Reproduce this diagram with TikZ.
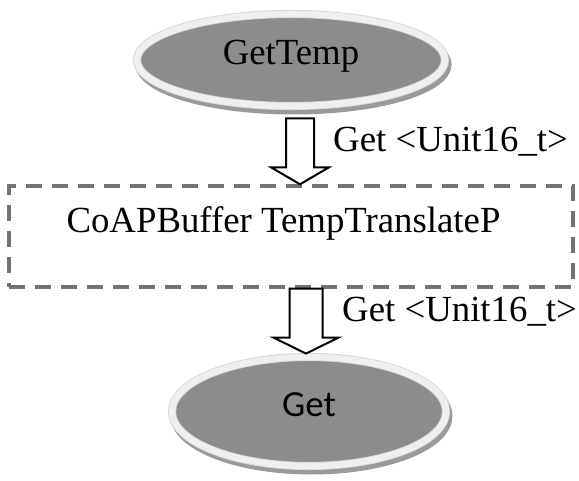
\documentclass[tikz,border=0pt]{standalone}
\usepackage{fontspec}
\setmainfont{Liberation Serif}
\newfontfamily\calfont{Carlito}
\usetikzlibrary{shapes.geometric,calc}

\definecolor{ovalfill}{HTML}{8C8C8C}
\definecolor{ovalrim}{HTML}{EFEFEF}
\definecolor{ovaledge}{HTML}{D4D4D4}
\definecolor{ovalshade}{HTML}{9A9A9A}
\definecolor{dashgray}{HTML}{737373}

\tikzset{
  oval/.style={ellipse, inner sep=0pt, fill=ovalfill,
    draw=ovaledge, double=ovalrim, double distance=6.5pt, line width=0.8pt,
    preaction={draw=ovalshade, fill=ovalshade, line width=8pt,
      transform canvas={shift={(2.5pt,-4.5pt)}}}},
  dashbox/.style={rectangle, draw=dashgray, line width=3.4pt,
    dash pattern=on 16pt off 10pt, inner sep=0pt},
  blockarrowline/.style={draw=black, fill=white, line width=2pt, line join=miter},
  lbl/.style={inner sep=0pt, anchor=base west},
  bigtext/.style={font=\fontsize{36.8}{40}\selectfont}
}

% block arrow: start, tip, shaft half-width, head half-width, head length
\newcommand\blockarrow[5]{%
  \draw[blockarrowline] let \p1=(#1), \p2=(#2) in
    (\x1-#3,\y1) -- (\x1-#3,\y2+#5) -- (\x1-#4,\y2+#5) -- (\x1,\y2)
    -- (\x1+#4,\y2+#5) -- (\x1+#3,\y2+#5) -- (\x1+#3,\y1) -- cycle;}

\begin{document}
\begin{tikzpicture}[x=1pt,y=-1pt]
  \useasboundingbox (0,0) rectangle (579,481);

  % ovals
  \node[oval, bigtext, minimum width=308pt, minimum height=92pt,
        text height=24pt, text depth=14pt] (gettemp) at (291,60) {GetTemp};
  \node[oval, minimum width=274pt, minimum height=109pt,
        font=\calfont\fontsize{36.8}{40}\selectfont,
        text height=24pt, text depth=13pt] (get) at (309,411.5) {Get};

  % component box
  \node[dashbox, bigtext, minimum width=564pt, minimum height=101pt,
        text height=47pt, text depth=54pt] (buffer) at (291,236.5)
        {\hspace*{-15pt}CoAPBuffer TempTranslateP};

  % interface arrows
  \coordinate (a1s) at ($(gettemp.south)+(9,12)$);
  \coordinate (a1e) at (buffer.north -| a1s);
  \blockarrow{a1s}{a1e}{14pt}{29pt}{17pt}

  \coordinate (a2s) at ($(buffer.south)+(15,0)$);
  \coordinate (a2e) at ($(get.north -| a2s)+(0,-3)$);
  \blockarrow{a2s}{a2e}{16.5pt}{32.5pt}{16pt}

  % interface labels
  \node[lbl, bigtext] (lab1) at (333,152) {Get <Unit16\_t>};
  \node[lbl, bigtext] (lab2) at (342,322) {Get <Unit16\_t>};
\end{tikzpicture}
\end{document}
